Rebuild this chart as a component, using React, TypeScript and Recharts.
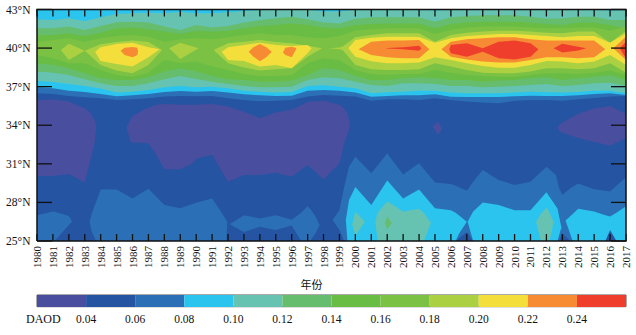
import React from 'react';
import { ComposedChart, Area, Line, XAxis, YAxis, BarChart, Bar, ReferenceArea } from 'recharts';

type Row = [number, number, number];
const years = Array.from({ length: 38 }, (_, i) => 1980 + i);
const latTicks = [25, 28, 31, 34, 37, 40, 43];
const levelTicks = [0.04, 0.06, 0.08, 0.1, 0.12, 0.14, 0.16, 0.18, 0.2, 0.22, 0.24];
const bandWidths = [0.04, 0.02, 0.02, 0.02, 0.02, 0.02, 0.02, 0.02, 0.02, 0.02, 0.02, 0.02];

const PURPLE = '#4a4e9f', DARK = '#2554a3', MID = '#2b70b7', CYAN = '#2ac4ee', TEAL = '#66c3b2', G12 = '#66bd6e', G14 = '#69bd45', G16 = '#7bc143', LIME = '#abd143', YELLOW = '#f4de3b', ORANGE = '#f68b33', RED = '#ef3e2c';
const bandColors = [PURPLE, DARK, MID, CYAN, TEAL, G12, G14, G16, LIME, YELLOW, ORANGE, RED];

// northern bands, one value per year
const midLo = [36.48,36.43,36.28,36.17,36.1,35.97,36.02,36.1,36.23,36.28,36.25,36.28,36.1,35.97,35.86,35.91,35.97,36.23,36.35,36.3,36.23,35.91,36.02,36.02,35.97,36.1,35.97,35.84,35.76,35.71,35.91,35.97,35.97,35.91,36.02,36.12,36.23,36.28];
const cyanLo = [36.95,36.87,36.69,36.59,36.43,36.25,36.33,36.43,36.59,36.67,36.61,36.67,36.54,36.41,36.33,36.28,36.3,36.69,36.74,36.69,36.54,36.22,36.28,36.33,36.33,36.41,36.22,36.2,36.2,36.2,36.25,36.3,36.28,36.28,36.33,36.43,36.48,36.35];
const tealLo = [37.44,37.37,37.21,37.05,36.85,36.54,36.61,36.74,36.95,37.05,36.95,37,36.87,36.69,36.61,36.54,36.59,37.05,37.11,37,36.87,36.48,36.56,36.61,36.69,36.69,36.54,36.48,36.48,36.48,36.54,36.61,36.56,36.54,36.59,36.69,36.69,36.48];
const tealHi = [42.24,42.18,42.31,42.11,42.39,42.65,42.7,42.75,42.7,42.8,42.7,42.7,42.78,42.88,42.96,43,43,43,42.85,42.85,43,43,43,43,43,42.9,43,43,43,43,43,43,43,43,43,43,42.9,43];
const g12Lo = [38.17,38.09,37.91,37.57,37.26,37.05,37.05,37.26,37.57,37.83,37.6,37.39,37.21,37.05,36.95,36.95,37,37.52,37.73,37.65,37.39,37.13,37.05,37.26,37.26,37.21,37.05,37.05,36.95,37,37.05,37.13,37.21,37.05,37.13,37.26,37.31,37.05];
const g12Hi = [41.54,41.54,41.67,41.41,41.72,42,42.05,41.98,41.67,41.41,41.8,41.61,41.72,41.98,42.18,42.31,42.44,42.24,41.98,41.92,42.29,42.39,42.39,42.39,42.39,42.05,42.39,42.49,42.55,42.55,42.55,42.44,42.29,42.31,42.44,42.44,42.18,42.18];
const g14Lo = [38.82,38.69,38.43,38.04,37.65,37.52,37.52,37.73,38.17,38.43,38.17,37.83,37.57,37.52,37.39,37.39,37.47,37.91,38.43,38.3,37.83,37.52,37.52,37.65,37.73,37.65,37.52,37.52,37.39,37.47,37.52,37.65,37.73,37.52,37.65,37.78,37.91,37.52];
const g14Hi = [41.02,41.02,41.15,40.94,41.2,41.54,41.61,41.46,41.28,41.1,41.35,41.28,41.35,41.54,41.72,41.8,41.92,41.8,41.61,41.54,41.8,41.87,41.92,41.92,41.92,41.54,41.87,41.98,42.05,42.05,42.05,41.98,41.87,41.8,41.98,41.98,41.8,41.54];
const g16Lo = [39.46,39.2,38.82,38.82,38.3,37.91,37.78,38.09,39.07,38.82,38.95,38.56,38.3,37.99,37.83,37.83,37.91,38.82,39.2,39.07,38.3,37.99,37.91,37.99,37.99,38.3,38.09,37.91,37.83,37.78,37.78,37.91,38.04,38.04,37.99,38.09,38.25,37.91];
const g16Hi = [40.5,40.63,40.76,40.5,40.76,40.94,41.02,40.89,40.5,40.68,40.76,40.68,40.84,41.02,41.15,41.02,41.02,40.84,40.76,40.94,41.35,41.46,41.54,41.54,41.54,41.1,41.41,41.61,41.67,41.67,41.67,41.61,41.54,41.54,41.61,41.61,41.35,41.67];

const zip = (lo: number[], hi: number[] | number): Row[] => years.map((y, i) => [y, lo[i], typeof hi === 'number' ? hi : hi[i]]);

// closed contour patches: [year, lower latitude, upper latitude]
const baseField: Row[] = [[1980, 25, 43], [2017, 25, 43]];
const purpleWest: Row[] = [[1980,30.05,35.95],[1981,30.05,36],[1982,30.2,35.85],[1983,29.55,35.3],[1983.3,31.04,35.05],[1983.6,32.5,34.4],[1983.72,33.8,34]];
const purpleMiddle: Row[] = [[1985.65,33.7,33.9],[1985.9,32.65,34.5],[1986,32.65,34.7],[1986.7,32.62,35.2],[1987,32.6,35.35],[1987.5,31.7,35.6],[1988,30.57,35.65],[1989,30.57,35.6],[1989.7,30.96,35.6],[1990,31.4,35.6],[1991,31.7,35.65],[1991.5,30.65,35.55],[1992,29.6,35.45],[1993,30.13,35.05],[1994,30.13,34.55],[1995,30.3,35],[1996,30,35.2],[1997,30.9,35.8],[1998,29.8,35.9],[1999,31.04,35.6],[1999.3,32.6,35.3],[1999.5,33.3,34.9],[1999.65,33.9,34.2]];
const purpleSpot: Row[] = [[2004.85,33.9,33.9],[2005.2,33.25,34.3],[2005.45,33.7,33.7]];
const purpleEast: Row[] = [[2012.7,33.8,33.8],[2012.85,33.5,34.1],[2014,33,34.9],[2015,32.7,35.3],[2016,32.4,35.5],[2017,33,34.9]];

const mid1: Row[] = [[1980,25,27],[1981,25,27.3],[1981.1,25,27.28],[1982,26.25,26.95],[1982.2,26.5,26.5]];
const mid2: Row[] = [[1983.3,26.5,26.5],[1983.45,25.7,27.15],[1983.7,25,28],[1984,25,29],[1985,25,29],[1986,25,28.3],[1987,25,29.07],[1988,25,27.8],[1989,25,27.55],[1990,25,27.98],[1991,25,28.3],[1991.5,25,27.4],[1991.9,25,26.6],[1991.95,26.5,26.5]];
const mid3: Row[] = [[1992.1,26.3,26.3],[1993,25.7,27],[1994,26.1,26.75],[1995,25.85,27],[1996,26.2,26.65],[1996.6,25,27.2],[1997,25,27.7],[1997.15,25,27.5],[1997.5,25.6,26.9],[1997.75,26.25,26.25]];
const mid4: Row[] = [[1998.57,26.63,26.63],[1999,25.85,27.41],[1999.3,25,29.2],[1999.6,25,30.78],[2000,25,31.56],[2001,25,30.26],[2002,25,31.8],[2003,25,30.18],[2004,25,31.04],[2005,25,29.54],[2006,25,29.43],[2006.3,25,29.3],[2007,25.7,28.91],[2007.4,25,29.6],[2008,25,30.52],[2009,25,29.74],[2010,25,29.35],[2011,25,29.61],[2012,25,30.78],[2012.6,25,30.13],[2012.8,25,29.1],[2013,25.6,28.58],[2013.5,25,29.1],[2014,25,29.48],[2015,25,29.02],[2015.7,25,28.9],[2016,25.8,28.84],[2016.4,25,29.3],[2017,25,29.95]];

const cyanA: Row[] = [[1999.4,26.63,26.63],[1999.5,25,27.4],[1999.6,25,28.18],[2000,25,29.2],[2001,25,27.8],[2002,25,29.7],[2003,25,28.3],[2004,25,29],[2005,25,27.55],[2006,25,27.4],[2006.3,25,27.2],[2006.5,25.55,27],[2007,26.5,26.5]];
const cyanB: Row[] = [[2007.05,26.5,26.5],[2007.4,25,27.3],[2008,25,28],[2009,25,27.8],[2010,25,27.4],[2011,25,27.4],[2012,25,28.8],[2012.6,25,27.7],[2012.7,25,27.5],[2012.9,25.9,26.3],[2012.95,26,26]];
const cyanC: Row[] = [[2013.2,26.6,26.6],[2013.65,25,27.1],[2014,25,27.5],[2015,25,27.3],[2015.7,25,27],[2016,25.85,26.9],[2016.4,25,27.2],[2017,25,27.7]];

const tealA: Row[] = [[1999.8,26.3,26.3],[2000,25.4,27.3],[2000.6,26.5,26.5]];
const tealB: Row[] = [[2001.25,26.5,26.5],[2001.4,25,27.2],[2002,25,28.1],[2003,25,27.3],[2004,25,27.5],[2004.3,25,27.2],[2004.75,26.4,26.4]];
const tealC: Row[] = [[2011.35,26.5,26.5],[2011.65,25,27.1],[2012,25,27.6],[2012.2,25,27.2],[2012.45,26.5,26.5]];
const greenSouth: Row[] = [[2001.85,26.4,26.4],[2002,25.9,26.9],[2002.3,26.4,26.4]];

const lime1: Row[] = [[1981.5,39.85,39.85],[1982,39.07,40.34],[1983,39.8,39.8]];
const lime2: Row[] = [[1983,39.8,39.8],[1984,38.69,40.29],[1985,38.25,40.47],[1986,38.04,40.58],[1987,38.69,40.47],[1987.85,39.85,39.85]];
const lime3: Row[] = [[1988.3,39.98,39.98],[1989,39.15,40.42],[1990.15,39.98,39.98]];
const lime4: Row[] = [[1991.1,39.85,39.85],[1992,38.82,40.37],[1993,38.5,40.5],[1994,38.25,40.63],[1995,38.35,40.47],[1996,38.43,40.37],[1997,39.33,40.19],[1997.9,39.98,39.98]];
const lime5: Row[] = [[1998.3,39.98,39.98],[1999,39.9,40.05],[1999.2,39.85,40.12],[2000,38.69,40.84],[2001,38.35,41.02],[2002,38.3,41.15],[2003,38.3,41.15],[2004,38.35,41.15],[2005,38.82,40.5],[2006,38.56,41.02],[2007,38.3,41.2],[2008,38.09,41.28],[2009,38.04,41.35],[2010,38.04,41.35],[2011,38.17,41.28],[2012,38.43,41.2],[2013,38.43,41.15],[2014,38.35,41.28],[2015,38.43,41.28],[2016,38.82,40.42],[2017,38.09,41.35]];

const yellow2: Row[] = [[1983.65,39.72,39.72],[1984,39,40.06],[1985,38.76,40.32],[1986,38.56,40.42],[1987,39.28,40.06],[1987.7,39.9,39.9]];
const yellow4: Row[] = [[1991.6,39.72,39.72],[1992,39.07,40.06],[1993,39,40.24],[1994,38.56,40.42],[1995,38.69,40.24],[1996,38.43,40.16],[1997,39.6,40.24],[1997.25,39.98,39.98]];
const yellow5: Row[] = [[1999.55,39.98,39.98],[2000,39.33,40.63],[2001,38.97,40.81],[2002,38.82,40.89],[2003,38.82,40.89],[2004,38.87,40.86],[2005,39.28,40.42],[2006,39.07,40.76],[2007,38.82,40.94],[2008,38.61,41.02],[2009,38.48,41.1],[2010,38.48,41.1],[2011,38.69,41.02],[2012,39,40.94],[2013,38.95,40.84],[2014,38.82,40.94],[2015,38.95,40.94],[2016,39.46,40.42],[2017,38.69,41.15]];

const orange0: Row[] = [[1985.25,39.8,39.8],[1985.5,39.46,40.03],[1986,39.28,40.08],[1986.3,39.46,40.03],[1986.35,39.72,39.72]];
const orange1: Row[] = [[1993.3,39.72,39.72],[1993.6,39.33,40.06],[1994,38.97,40.32],[1994.4,39.28,40.06],[1994.75,39.72,39.72]];
const orange2: Row[] = [[1995.45,39.65,39.65],[1995.6,39.46,40.03],[1996,39.28,40.11],[1996.25,39.85,40.03],[1996.3,39.95,39.95]];
const orangeA: Row[] = [[2000.2,39.9,39.9],[2001,39.46,40.5],[2002,39.28,40.58],[2003,39.2,40.58],[2004,39.2,40.63],[2004.65,39.9,39.9]];
const orangeB: Row[] = [[2005.4,39.9,39.9],[2006,39.33,40.5],[2007,39.12,40.68],[2008,38.95,40.76],[2009,38.87,40.84],[2010,38.87,40.84],[2011,39.07,40.68],[2012,39.28,40.58],[2013,39.28,40.58],[2014,39.2,40.58],[2015,39.28,40.58],[2015.7,39.9,39.9]];
const orangeC: Row[] = [[2016.2,39.98,39.98],[2017,39.07,40.89]];

const redA: Row[] = [[2001.9,39.98,39.98],[2002,39.96,40.01],[2003,39.9,40.06],[2004,39.8,40.19],[2004.15,39.98,39.98]];
const redB: Row[] = [[2005.9,39.9,39.9],[2006,39.59,40.24],[2007,39.33,40.37],[2008,39.72,39.98],[2009,39.2,40.5],[2010,39.12,40.58],[2011,39.33,40.37],[2011.5,39.9,39.9]];
const redC: Row[] = [[2012.45,39.98,39.98],[2013,39.65,40.34],[2014,39.82,40.11],[2014.5,39.98,39.98]];
const redD: Row[] = [[2016.6,39.98,39.98],[2017,39.2,40.5]];

const layers: [string, Row[]][] = [
  [DARK, baseField],
  [PURPLE, purpleWest], [PURPLE, purpleMiddle], [PURPLE, purpleSpot], [PURPLE, purpleEast],
  [MID, mid1], [MID, mid2], [MID, mid3], [MID, mid4],
  [CYAN, cyanA], [CYAN, cyanB], [CYAN, cyanC],
  [TEAL, tealA], [TEAL, tealB], [TEAL, tealC], [G12, greenSouth],
  [MID, zip(midLo, 43)], [CYAN, zip(cyanLo, 43)], [TEAL, zip(tealLo, tealHi)],
  [G12, zip(g12Lo, g12Hi)], [G14, zip(g14Lo, g14Hi)], [G16, zip(g16Lo, g16Hi)],
  [LIME, lime1], [LIME, lime2], [LIME, lime3], [LIME, lime4], [LIME, lime5],
  [YELLOW, yellow2], [YELLOW, yellow4], [YELLOW, yellow5],
  [ORANGE, orange0], [ORANGE, orange1], [ORANGE, orange2], [ORANGE, orangeA], [ORANGE, orangeB], [ORANGE, orangeC],
  [RED, redA], [RED, redB], [RED, redC], [RED, redD],
];

const toPoints = (rows: Row[]) => rows.map(([x, lo, hi]) => ({ x, r: [lo, hi] }));

const SERIF = '"Liberation Serif", serif';
const INK = '#111';

const frame = [{ x: 1980, y: 25 }, { x: 2017, y: 25 }, { x: 2017, y: 43 }, { x: 1980, y: 43 }, { x: 1980, y: 25 }];
const bottomMarks = years.map((x) => ({ x, y: 25 }));
const topMarks = years.map((x) => ({ x, y: 43 }));
const leftMarks = latTicks.map((y) => ({ x: 1980, y }));
const rightMarks = latTicks.map((y) => ({ x: 2017, y }));

const mark = (dx: number, dy: number) => (p: any) => (
  <line key={p.index} x1={p.cx} y1={p.cy} x2={p.cx + dx} y2={p.cy + dy} stroke={INK} strokeWidth={1.3} />
);

const YearTick = ({ x, y, payload }: any) => (
  <text x={x} y={y + 5} textAnchor="end" dominantBaseline="central" transform={`rotate(-90 ${x} ${y + 5})`} fontFamily={SERIF} fontSize={11} fill={INK}>{payload.value}</text>
);
const LatTick = ({ x, y, payload }: any) => (
  <text x={x - 6.5} y={y} textAnchor="end" dominantBaseline="central" fontFamily={SERIF} fontSize={11.5} fill={INK}>{`${payload.value}°N`}</text>
);
const LevelTick = ({ x, y, payload }: any) => (
  <text x={x} y={y + 12.5} textAnchor="middle" dominantBaseline="central" fontFamily={SERIF} fontSize={11.5} fill={INK}>{payload.value.toFixed(2)}</text>
);
const NameTick = ({ x, y, payload }: any) => (
  <text x={x - 11} y={y + 18} textAnchor="start" dominantBaseline="central" fontFamily={SERIF} fontSize={12} fill={INK}>{payload.value}</text>
);

const barRow: Record<string, number | string> = { name: 'DAOD' };
bandWidths.forEach((w, i) => { barRow[`b${i}`] = w; });

export default function App() {
  return (
    <div style={{ position: 'absolute', left: 0, top: 0, width: 636, height: 335, background: '#fff' }}>
      <div style={{ position: 'absolute', left: 0, top: 0 }}>
        <ComposedChart width={636} height={300} margin={{ top: 9.5, right: 10, bottom: 0, left: 0 }}>
          <XAxis dataKey="x" type="number" domain={[1980, 2017]} ticks={years} interval={0} height={59} tickSize={0} tickMargin={0} tick={YearTick} tickLine={false} axisLine={false}
            label={{ value: '年份', position: 'insideBottom', offset: 11, dx: -20, style: { fontFamily: '"Noto Sans CJK SC"', fontSize: 11, fill: INK } }} />
          <YAxis type="number" domain={[25, 43]} ticks={latTicks} interval={0} width={37} tickSize={0} tickMargin={0} tick={LatTick} tickLine={false} axisLine={false} />
          {layers.map(([color, rows], i) => (
            <Area key={i} data={toPoints(rows)} dataKey="r" type="linear" fill={color} fillOpacity={1} stroke="none" isAnimationActive={false} dot={false} activeDot={false} />
          ))}
          <Line data={frame} dataKey="y" stroke={INK} strokeWidth={1.5} dot={false} activeDot={false} isAnimationActive={false} />
          <Line data={bottomMarks} dataKey="y" stroke="none" dot={mark(0, -7)} activeDot={false} isAnimationActive={false} />
          <Line data={topMarks} dataKey="y" stroke="none" dot={mark(0, 7)} activeDot={false} isAnimationActive={false} />
          <Line data={leftMarks} dataKey="y" stroke="none" dot={mark(15, 0)} activeDot={false} isAnimationActive={false} />
          <Line data={rightMarks} dataKey="y" stroke="none" dot={mark(-15, 0)} activeDot={false} isAnimationActive={false} />
        </ComposedChart>
      </div>
      <div style={{ position: 'absolute', left: 0, top: 285 }}>
        <BarChart width={636} height={50} layout="vertical" data={[barRow]} margin={{ top: 10, right: 10, bottom: 0, left: 0 }} barCategoryGap={0}>
          <XAxis type="number" domain={[0.02, 0.26]} allowDataOverflow ticks={levelTicks} interval={0} height={28.3} tickSize={0} tickMargin={0} tick={LevelTick} tickLine={false} axisLine={false} />
          <YAxis type="category" dataKey="name" width={37} tickSize={0} tickMargin={0} tick={NameTick} tickLine={false} axisLine={false} />
          {bandWidths.map((_, i) => (
            <Bar key={i} dataKey={`b${i}`} stackId="s" fill={bandColors[i]} isAnimationActive={false} />
          ))}
          <ReferenceArea x1={0.02} x2={0.26} fill="none" stroke="#555" strokeWidth={1} />
        </BarChart>
      </div>
    </div>
  );
}
